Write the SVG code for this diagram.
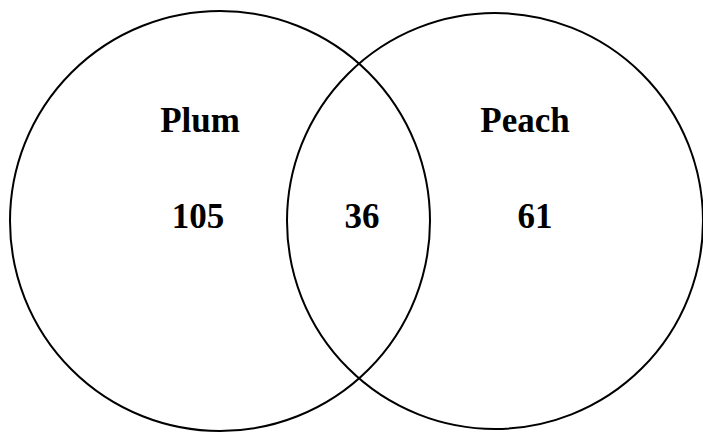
<svg xmlns="http://www.w3.org/2000/svg" width="703" height="434" viewBox="0 0 703 434">
  <style>
    .set { fill: none; stroke: #000; stroke-width: 2; }
    .lbl { font-family: "Liberation Serif", "Times New Roman", serif; font-weight: bold; font-size: 35px; fill: #000; text-anchor: middle; }
  </style>
  <rect width="703" height="434" fill="#fff"/>
  <g id="plum">
    <circle class="set" cx="220" cy="221" r="210"/>
    <text class="lbl" x="200" y="132">Plum</text>
    <text class="lbl" x="198" y="228">105</text>
  </g>
  <g id="peach">
    <circle class="set" cx="495" cy="221" r="208"/>
    <text class="lbl" x="525" y="132">Peach</text>
    <text class="lbl" x="535" y="228">61</text>
  </g>
  <g id="overlap">
    <text class="lbl" x="362" y="228">36</text>
  </g>
</svg>
